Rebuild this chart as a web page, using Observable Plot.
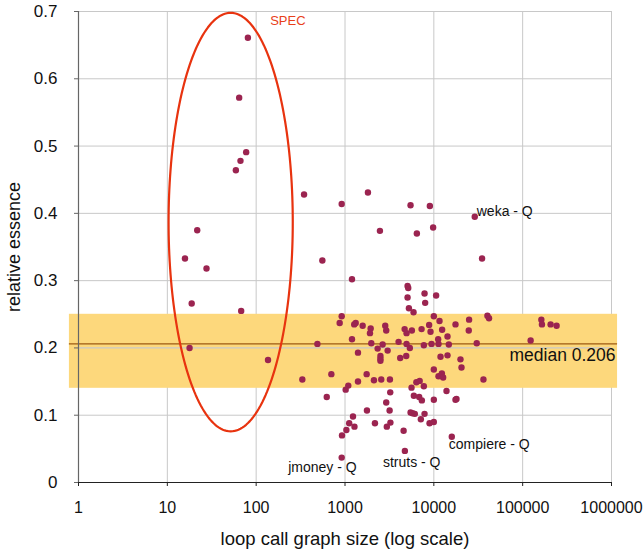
<!DOCTYPE html>
<html>
<head>
<meta charset="utf-8">
<script src="https://cdn.jsdelivr.net/npm/d3@7"></script>
<script src="https://cdn.jsdelivr.net/npm/@observablehq/plot@0.6"></script>
<style>
  html, body { margin: 0; padding: 0; background: #fff; }
  #chart { width: 643px; height: 552px; }
</style>
</head>
<body>
<div id="chart"></div>
<script>
// ---- data ----
const graphSize = [
  80.7, 64.4, 77.2, 66.6, 59.1, 21.7, 15.8, 27.6, 18.8, 67.8, 17.8, 136,
  346, 918, 1812, 5470, 9020, 2473, 6440, 9820, 556, 1199,
  5060, 5150, 5060, 7860, 10610, 7990, 5240, 5910, 10000, 918, 871,
  1270, 1320, 1581, 1199, 1945, 1910, 2838, 2911, 4690, 4930, 5660, 7280,
  8850, 9180, 11590, 12400, 17530, 489, 1977, 1400, 2330, 2653, 3020,
  2505, 2505, 2505, 4010, 4930, 5370, 4180, 4890, 7720, 9420, 11290, 14750,
  14260, 11190, 14260, 11890, 10000, 11290, 12310, 12730,
  331, 702, 1400, 1753, 2118, 2559, 3204, 1089, 1018, 623, 3230, 2911,
  3178, 1767, 1230, 1115, 1278, 1036, 925, 918, 2173, 2957, 3245, 4570, 4720,
  5610, 5960, 6360, 6930, 7720, 6840, 7330, 10000, 13890, 17530,
  5470, 5760, 6110, 7860, 7140, 8950, 10000, 15930,
  28890, 34900, 40100, 41800, 24940, 24730, 30410, 19950, 20480, 36170, 17990,
  162300, 164900, 206300, 241000, 123000
];
const essence = [
  0.661, 0.572, 0.491, 0.478, 0.464, 0.375, 0.333, 0.318, 0.266, 0.255, 0.200, 0.182,
  0.428, 0.414, 0.431, 0.412, 0.411, 0.374, 0.370, 0.379, 0.330, 0.302,
  0.292, 0.289, 0.275, 0.281, 0.278, 0.267, 0.259, 0.253, 0.247, 0.247, 0.237,
  0.235, 0.237, 0.233, 0.213, 0.229, 0.222, 0.233, 0.226, 0.228, 0.222, 0.226, 0.228,
  0.234, 0.224, 0.240, 0.227, 0.235, 0.206, 0.207, 0.193, 0.199, 0.205, 0.196,
  0.188, 0.184, 0.181, 0.209, 0.206, 0.200, 0.185, 0.188, 0.204, 0.206, 0.206, 0.205,
  0.217, 0.213, 0.189, 0.187, 0.168, 0.158, 0.162, 0.156,
  0.153, 0.161, 0.150, 0.161, 0.152, 0.153, 0.153, 0.144, 0.138, 0.127, 0.134, 0.119,
  0.107, 0.107, 0.098, 0.088, 0.083, 0.078, 0.070, 0.037, 0.088, 0.083, 0.089, 0.077, 0.047,
  0.141, 0.129, 0.149, 0.151, 0.143, 0.127, 0.122, 0.123, 0.136, 0.123,
  0.104, 0.103, 0.102, 0.102, 0.094, 0.088, 0.090, 0.068,
  0.395, 0.333, 0.248, 0.244, 0.242, 0.226, 0.207, 0.183, 0.171, 0.153, 0.124,
  0.242, 0.235, 0.235, 0.233, 0.211
];

const xTicks = [1, 10, 100, 1000, 10000, 100000, 1000000];
const yTicks = [0, 0.1, 0.2, 0.3, 0.4, 0.5, 0.6, 0.7];

const xTitle = "loop call graph size (log scale)";
const yTitle = "relative essence";

const medianValue = 0.206;
const bandLow = 0.14, bandHigh = 0.25;
const bandXExtent = [0.79, 1.17e6];

const labelText = ["weka - Q", "jmoney - Q", "struts - Q", "compiere - Q"];
const labelX = [30400, 229, 2673, 14750];
const labelY = [0.403, 0.022, 0.030, 0.0565];

const medianLabel = "median 0.206";
const specLabel = "SPEC";
const specLabelPos = [143.7, 0.686];

// SPEC ellipse annotation (centre and radii in log10-x / y units)
const specEllipse = {cx: 1.713, cy: 0.387, rx: 0.699, ry: 0.311};

// ---- build tables ----
const points = graphSize.map((x, i) => ({x, y: essence[i]}));
const labels = labelText.map((t, i) => ({t, x: labelX[i], y: labelY[i]}));
const ellipsePts = d3.range(0, 201).map(i => {
  const a = (i / 200) * 2 * Math.PI;
  return {x: Math.pow(10, specEllipse.cx + specEllipse.rx * Math.cos(a)),
          y: specEllipse.cy + specEllipse.ry * Math.sin(a)};
});

const font = "'Liberation Sans', Arial, Helvetica, sans-serif";

const chart = Plot.plot({
  width: 643,
  height: 552,
  marginLeft: 78,
  marginRight: 32,
  marginTop: 11,
  marginBottom: 70,
  style: {fontFamily: font, fontSize: "17px", color: "#111", background: "#fff", overflow: "visible"},
  x: {type: "log", domain: [1, 1e6]},
  y: {domain: [0, 0.7]},
  marks: [
    Plot.gridX(xTicks, {stroke: "#c8c8c8", strokeOpacity: 1, strokeWidth: 1}),
    Plot.gridY(yTicks.filter(d => d > 0 && (d < bandLow || d > bandHigh)), {stroke: "#c8c8c8", strokeOpacity: 1, strokeWidth: 1}),
    Plot.rect([{x1: bandXExtent[0], x2: bandXExtent[1], y1: bandLow, y2: bandHigh}],
      {x1: "x1", x2: "x2", y1: "y1", y2: "y2", fill: "#fdd87c"}),
    Plot.gridY(yTicks.filter(d => d >= bandLow && d <= bandHigh), {stroke: "#c8c8c8", strokeOpacity: 1, strokeWidth: 1.2}),
    Plot.ruleY([{y: medianValue, x1: bandXExtent[0], x2: bandXExtent[1]}],
      {y: "y", x1: "x1", x2: "x2", stroke: "#9c5a12", strokeWidth: 1.2}),
    Plot.ruleX([1], {stroke: "#666", strokeWidth: 1.2}),
    Plot.ruleY([0], {stroke: "#222", strokeWidth: 1.2}),
    Plot.axisX({ticks: xTicks, tickFormat: d3.format("d"), tickSize: 4, tickPadding: 15,
      stroke: "#222", label: null, fontSize: 16}),
    Plot.axisY({ticks: yTicks, tickFormat: d => String(d), tickSize: 4, tickPadding: 17,
      stroke: "#666", label: null, fontSize: 17}),
    Plot.text([xTitle], {frameAnchor: "bottom", dy: 57, textAnchor: "middle", lineAnchor: "middle", fontSize: 18.5, fill: "#111"}),
    Plot.text([yTitle], {frameAnchor: "left", dx: -64, rotate: -90, textAnchor: "middle", lineAnchor: "middle", fontSize: 18, fill: "#111"}),
    Plot.line(ellipsePts, {x: "x", y: "y", stroke: "#e8330f", strokeWidth: 2.2, curve: "linear"}),
    Plot.dot(points, {x: "x", y: "y", r: 3.2, fill: "#9b2450", stroke: "none"}),
    Plot.text(labels, {x: "x", y: "y", text: "t", textAnchor: "start", fontSize: 14, fill: "#111"}),
    Plot.text([{t: medianLabel, x: 1.11e6, y: 0.189}], {x: "x", y: "y", text: "t", textAnchor: "end", fontSize: 17.5, fill: "#111"}),
    Plot.text([{t: specLabel, x: specLabelPos[0], y: specLabelPos[1]}], {x: "x", y: "y", text: "t", textAnchor: "start", fontSize: 13, fill: "#e8401a"})
  ]
});
document.getElementById("chart").appendChild(chart);
</script>
</body>
</html>
